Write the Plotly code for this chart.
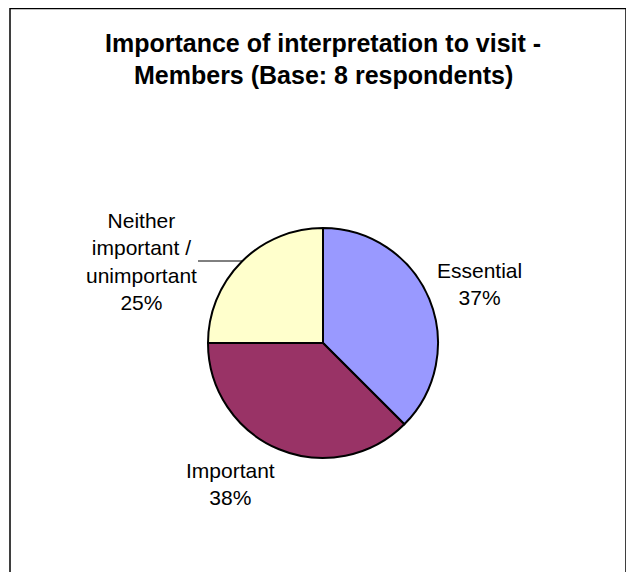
import plotly.graph_objects as go

categories = ["Essential", "Important", "Neither important / unimportant"]
label_text = ["Essential", "Important", "Neither<br>important /<br>unimportant"]
values = [37.5, 37.5, 25.0]
pct_labels = ["37%", "38%", "25%"]
colors = ["#9999FF", "#993366", "#FFFFCC"]
title_lines = ["Importance of interpretation to visit -", "Members (Base: 8 respondents)"]

W, H = 634, 572
OFF = 8  # page body margin
cx, cy, r = 323 - OFF, 343 - OFF, 115

def px(x):
    return x / W

def py(y):
    return 1 - y / H

fig = go.Figure(go.Pie(
    labels=categories,
    values=values,
    sort=False,
    direction="clockwise",
    rotation=0,
    textinfo="none",
    hoverinfo="label+percent",
    marker=dict(colors=colors, line=dict(color="black", width=2)),
    domain=dict(x=[px(cx - r), px(cx + r)], y=[py(cy + r), py(cy - r)]),
    showlegend=False,
))

FONT = "Liberation Sans, Arial, sans-serif"
label_pos = [(479, 284), (230, 484), (141, 261)]
annotations = []
for (x, y), t, p in zip(label_pos, label_text, pct_labels):
    annotations.append(dict(
        x=px(x - OFF), y=py(y - OFF), xref="paper", yref="paper",
        text=f"{t}<br>{p}", showarrow=False,
        font=dict(family=FONT, size=21, color="black"),
        xanchor="center", yanchor="middle", align="center",
    ))
for line, y in zip(title_lines, [43, 75]):
    annotations.append(dict(
        x=px(323 - OFF), y=py(y - OFF), xref="paper", yref="paper",
        text=f"<b>{line}</b>", showarrow=False,
        font=dict(family=FONT, size=25, color="black"),
        xanchor="center", yanchor="middle", align="center",
    ))

shapes = [
    dict(type="rect", xref="paper", yref="paper",
         x0=px(10 - OFF), x1=px(626 - OFF), y0=py(620), y1=py(0.5),
         line=dict(color="black", width=1.5), fillcolor="rgba(0,0,0,0)"),
    dict(type="line", xref="paper", yref="paper",
         x0=px(198 - OFF), x1=px(242 - OFF), y0=py(261 - OFF), y1=py(261 - OFF),
         line=dict(color="black", width=1)),
]

fig.update_layout(
    width=W, height=H,
    margin=dict(l=0, r=0, t=0, b=0),
    paper_bgcolor="white", plot_bgcolor="white",
    annotations=annotations, shapes=shapes,
)

fig.write_html("out.html")
